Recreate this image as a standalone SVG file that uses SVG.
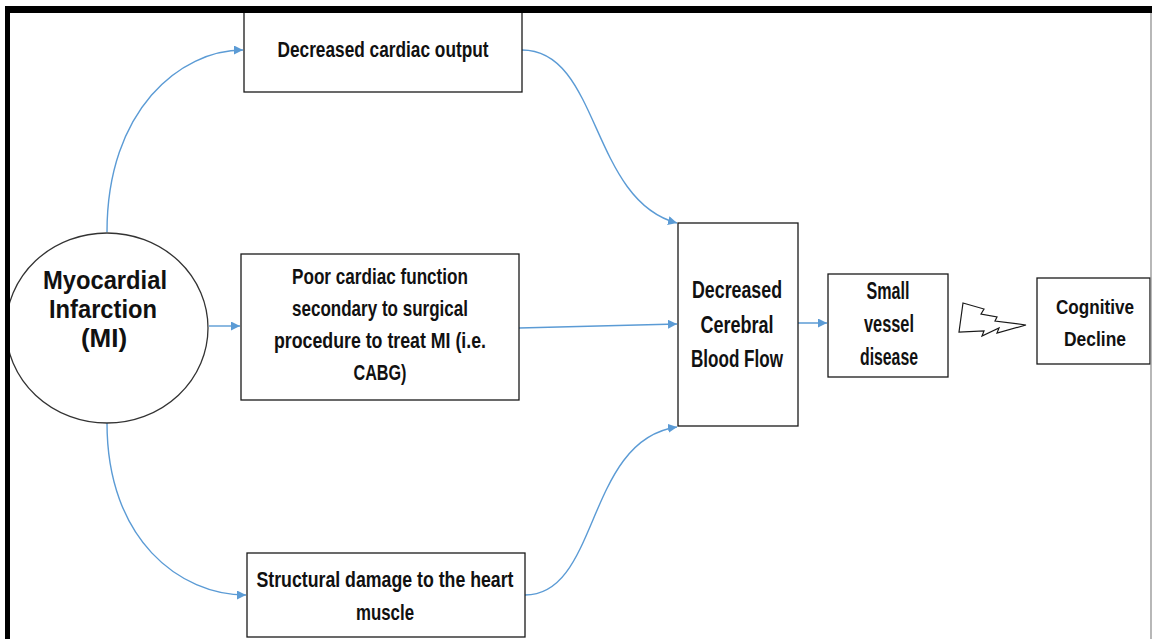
<svg xmlns="http://www.w3.org/2000/svg" width="1152" height="639" viewBox="0 0 1152 639">
<style>
.box{fill:#fff;stroke:#1a1a1a;stroke-width:1.3}
.t{font-family:"Liberation Sans",Arial,sans-serif;font-weight:bold;font-size:22px;fill:#111;text-anchor:middle}
.m{font-size:23px}
.s{font-size:21px}
.big{font-size:26px}
.c{fill:none;stroke:#5B9BD5;stroke-width:1.4}
</style>
<defs>
<marker id="ah" viewBox="0 0 10 10" refX="10" refY="5" markerWidth="9" markerHeight="9" markerUnits="userSpaceOnUse" orient="auto">
<path d="M0,0 L10,5 L0,10 Z" fill="#5B9BD5"/>
</marker>
</defs>
<rect x="0" y="0" width="1152" height="639" fill="#fff"/>
<g id="connectors">
<path class="c" d="M107,232 C107,110 180,50 243,50" marker-end="url(#ah)"/>
<path class="c" d="M107,423 C107,540 180,595 246,595" marker-end="url(#ah)"/>
<path class="c" d="M209,326 L240,326" marker-end="url(#ah)"/>
<path class="c" d="M519,328 L677,324" marker-end="url(#ah)"/>
<path class="c" d="M522,50 C600,50 590,200 677,223" marker-end="url(#ah)"/>
<path class="c" d="M525,595 C600,595 585,440 677,427" marker-end="url(#ah)"/>
<path class="c" d="M793,323 L827,323" marker-end="url(#ah)"/>
</g>
<g id="mi">
<ellipse cx="107" cy="328" rx="101" ry="95" fill="#fff" stroke="#333" stroke-width="1.3"/>
<text class="t big" x="105" y="289" textLength="124" lengthAdjust="spacingAndGlyphs">Myocardial</text>
<text class="t big" x="103" y="318" textLength="108" lengthAdjust="spacingAndGlyphs">Infarction</text>
<text class="t big" x="104" y="347">(MI)</text>
</g>
<g id="output">
<rect class="box" x="244" y="10" width="278" height="82"/>
<text class="t" x="383" y="57" textLength="211" lengthAdjust="spacingAndGlyphs">Decreased cardiac output</text>
</g>
<g id="poor">
<rect class="box" x="241" y="254" width="278" height="146"/>
<text class="t" x="380" y="284" textLength="176" lengthAdjust="spacingAndGlyphs">Poor cardiac function</text>
<text class="t" x="380" y="316" textLength="176" lengthAdjust="spacingAndGlyphs">secondary to surgical</text>
<text class="t" x="380" y="348" textLength="212" lengthAdjust="spacingAndGlyphs">procedure to treat MI (i.e.</text>
<text class="t" x="380" y="380" textLength="53" lengthAdjust="spacingAndGlyphs">CABG)</text>
</g>
<g id="structural">
<rect class="box" x="247" y="553" width="278" height="84"/>
<text class="t" x="385" y="587" textLength="257" lengthAdjust="spacingAndGlyphs">Structural damage to the heart</text>
<text class="t" x="385" y="620" textLength="58" lengthAdjust="spacingAndGlyphs">muscle</text>
</g>
<g id="dcbf">
<rect class="box" x="678" y="223" width="120" height="203"/>
<text class="t m" x="737" y="298" textLength="90" lengthAdjust="spacingAndGlyphs">Decreased</text>
<text class="t m" x="737" y="333" textLength="73" lengthAdjust="spacingAndGlyphs">Cerebral</text>
<text class="t m" x="737" y="367" textLength="92" lengthAdjust="spacingAndGlyphs">Blood Flow</text>
</g>
<g id="svd">
<rect class="box" x="828" y="274" width="120" height="103"/>
<text class="t m" x="888" y="299" textLength="43" lengthAdjust="spacingAndGlyphs">Small</text>
<text class="t m" x="889" y="332" textLength="50" lengthAdjust="spacingAndGlyphs">vessel</text>
<text class="t m" x="889" y="365" textLength="58" lengthAdjust="spacingAndGlyphs">disease</text>
</g>
<g id="bolt">
<polygon points="963,303 984,309 981,314 997,317 995,321 1026,325 997,333 999,328 982,336 984,331 959,332" fill="#fff" stroke="#1a1a1a" stroke-width="1.2" stroke-linejoin="miter"/>
</g>
<g id="cognitive">
<rect class="box" x="1037" y="278" width="113" height="86"/>
<text class="t s" x="1095" y="314" textLength="78" lengthAdjust="spacingAndGlyphs">Cognitive</text>
<text class="t s" x="1095" y="346" textLength="62" lengthAdjust="spacingAndGlyphs">Decline</text>
</g>
<g id="frame">
<rect x="5" y="6" width="1147" height="7" fill="#000"/>
<rect x="5" y="6" width="5" height="633" fill="#000"/>
<line x1="1151" y1="13" x2="1151" y2="639" stroke="#888" stroke-width="1.2"/>
</g>
</svg>
